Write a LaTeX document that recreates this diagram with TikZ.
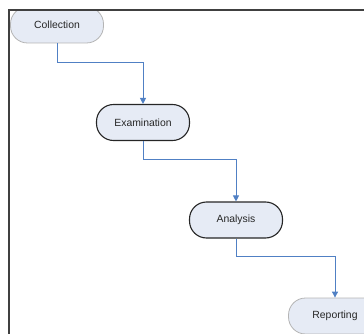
\documentclass[tikz,border=0pt]{standalone}
\usepackage{fontspec}
\setmainfont{Liberation Sans}
\usetikzlibrary{arrows.meta}
\definecolor{nodefill}{HTML}{E6EBF5}
\definecolor{arrowblue}{HTML}{5080C4}
\definecolor{lightborder}{HTML}{B4B4B4}
\definecolor{frameline}{HTML}{404040}
\tikzset{
  stage/.style={rectangle, rounded corners=17pt, fill=nodefill, minimum width=93pt, minimum height=36pt, inner sep=0pt, text=black!85, font=\fontsize{10.4pt}{12pt}\selectfont},
  darkstage/.style={stage, draw=black!85, line width=1.1pt},
  lightstage/.style={stage, draw=lightborder, line width=0.8pt},
  flow/.style={color=arrowblue, line width=0.9pt, -{Triangle[length=6pt,width=6pt]}},
}
\begin{document}
\begin{tikzpicture}[x=1pt,y=-1pt]
\useasboundingbox (0,0) rectangle (364,334);
\begin{scope}
\clip (9,10) rectangle (364,334);
\node[lightstage] (col) at (57,25) {Collection};
\node[darkstage] (exa) at (143,122.5) {Examination};
\node[darkstage] (ana) at (236,220) {Analysis};
\node[lightstage] (rep) at (335,316) {Reporting};
\coordinate (c1) at (57,62);
\coordinate (c2) at (143,62);
\coordinate (c3) at (143,159);
\coordinate (c4) at (236,159);
\coordinate (c5) at (236,256);
\coordinate (c6) at (335,256);
\draw[flow] (col.south) -- (c1) -- (c2) -- (exa.north);
\draw[flow] (exa.south) -- (c3) -- (c4) -- (ana.north);
\draw[flow] (ana.south) -- (c5) -- (c6) -- (rep.north);
\end{scope}
\coordinate (f1) at (9,334);
\coordinate (f2) at (9,10);
\coordinate (f3) at (364,10);
\draw[frameline, line width=1.6pt] (f1) -- (f2) -- (f3);
\end{tikzpicture}
\end{document}
